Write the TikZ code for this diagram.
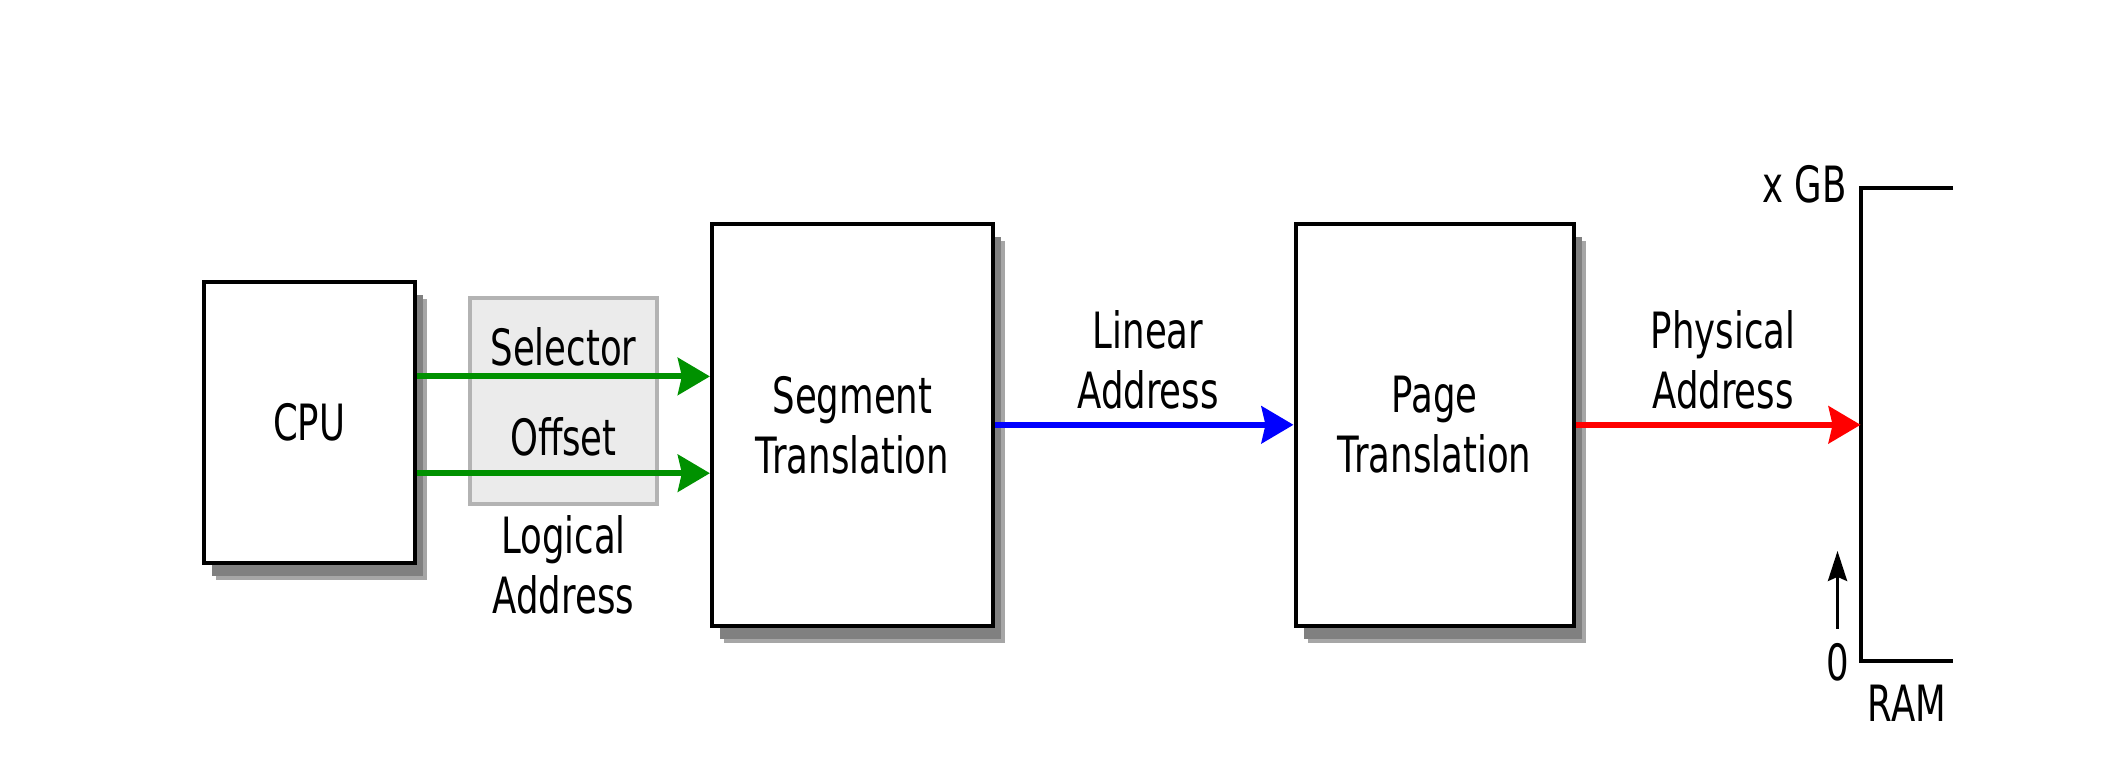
\documentclass[tikz,border=0pt]{standalone}
\usepackage{fontspec}
\setmainfont{DejaVu Sans}[FakeStretch=0.71]
\usetikzlibrary{arrows.meta,shadows}
\definecolor{fieldfill}{RGB}{235,235,235}
\definecolor{fieldedge}{RGB}{179,179,179}
\definecolor{shadowgray}{RGB}{128,128,128}
\definecolor{shadowlight}{RGB}{166,166,166}
\definecolor{addrgreen}{RGB}{0,145,0}

\begin{document}
\begin{tikzpicture}[x=1pt,y=-1pt,
  font=\fontsize{50}{60}\selectfont,
  unitbox/.style 2 args={draw=black, line width=4pt, fill=white, inner sep=0pt,
    minimum width=#1, minimum height=#2, align=center,
    drop shadow={shadow xshift=12pt, shadow yshift=-17pt, fill=shadowlight, opacity=1},
    drop shadow={shadow xshift=8pt, shadow yshift=-13pt, fill=shadowgray, opacity=1}},
  fieldbox/.style={draw=fieldedge, fill=fieldfill, line width=4pt,
    minimum width=187pt, minimum height=206pt},
  label/.style={inner sep=0pt, align=center},
  addrarrow/.style={line width=6pt, -{Stealth[length=32pt,width=37pt,inset=4pt]}},
  markarrow/.style={line width=3.5pt, -{Stealth[length=30pt,width=19pt,inset=4pt]}},
  ramline/.style={line width=4pt}]
\useasboundingbox (0,0) rectangle (2108,758);
% Drawing units
\node[unitbox={211pt}{281pt}] (cpu) at (309.3,422.2) {CPU};
\node[fieldbox] (logic) at (563.4,400.7) {};
\node[label] (sel) at (563.4,347) {Selector};
\node[label] (off) at (563.4,437) {Offset};
\node[label] (logaddr) at (563.4,565) {Logical\\Address};
\node[unitbox={281pt}{402pt}] (seg) at (852.4,424.8) {Segment\\Translation};
\node[unitbox={278pt}{402pt}] (page) at (1434.5,424.8) {Page\\Translation};
% Done with units; drawing RAM
\coordinate (ramtop) at (1860.6,188);
\coordinate (rambot) at (1860.6,661);
\draw[ramline] (1953,188) -- (ramtop) -- (rambot) -- (1953,661);
\node[label,anchor=east] (size) at (1847,184) {x GB};
\node[label] (zero) at (1837.5,662) {0};
\node[label] (ramname) at (1907,703) {RAM};
\draw[markarrow] ([yshift=14pt]zero.north) -- ++(0,-78);
% Done with RAM; drawing addresses
\draw[addrarrow,addrgreen] (cpu.east |- 0,376.4) -- (seg.west |- 0,376.4);
\draw[addrarrow,addrgreen] (cpu.east |- 0,473.2) -- (seg.west |- 0,473.2);
\draw[addrarrow,blue] (seg.east) -- (page.west);
\draw[addrarrow,red] (page.east) -- (page.east -| ramtop);
\node[label] (lin) at (1148,359.5) {Linear\\Address};
\node[label] (phys) at (1723,359.5) {Physical\\Address};
% Done with addresses
\end{tikzpicture}
\end{document}
